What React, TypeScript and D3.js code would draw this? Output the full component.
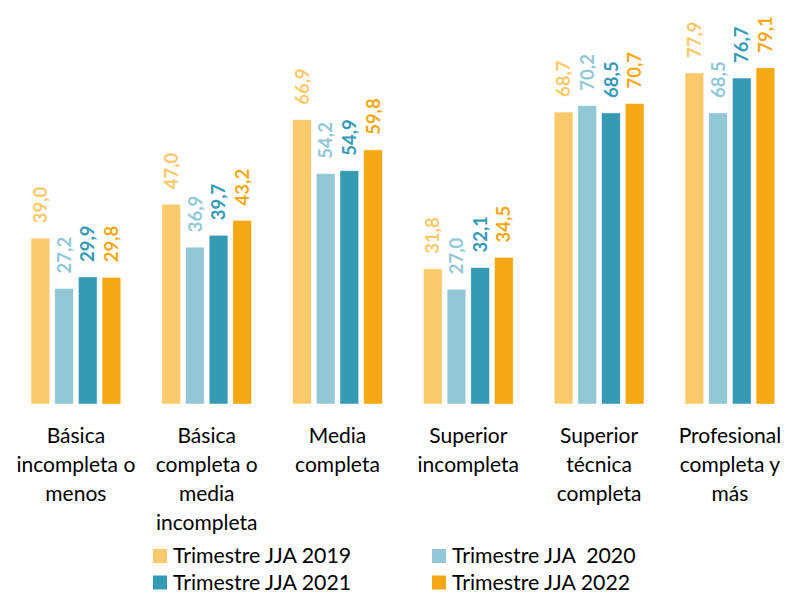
import React from "react";
import * as d3 from "d3";

const categories = [
  ["Básica", "incompleta o", "menos"],
  ["Básica", "completa o", "media", "incompleta"],
  ["Media", "completa"],
  ["Superior", "incompleta"],
  ["Superior", "técnica", "completa"],
  ["Profesional", "completa y", "más"],
];
const seriesNames = ["Trimestre JJA 2019", "Trimestre JJA  2020", "Trimestre JJA 2021", "Trimestre JJA 2022"];
const s2019 = [39.0, 47.0, 66.9, 31.8, 68.7, 77.9];
const s2020 = [27.2, 36.9, 54.2, 27.0, 70.2, 68.5];
const s2021 = [29.9, 39.7, 54.9, 32.1, 68.5, 76.7];
const s2022 = [29.8, 43.2, 59.8, 34.5, 70.7, 79.1];
const series = [s2019, s2020, s2021, s2022];
const colors = ["#F9C96B", "#92C8D5", "#359AB4", "#F5A814"];

const W = 786;
const H = 593;
const FONT = "Lato, 'Open Sans', sans-serif";

export default function App() {
  const x0 = d3
    .scaleBand<number>()
    .domain(d3.range(categories.length))
    .range([10.5, 795.3])
    .paddingInner(0.314)
    .paddingOuter(0.157);
  const x1 = d3
    .scaleBand<number>()
    .domain(d3.range(series.length))
    .range([0, x0.bandwidth()])
    .paddingInner(0.21)
    .paddingOuter(0);
  const y = d3.scaleLinear().domain([0, 90]).range([404, 21.5]);
  const fmt = (v: number) => d3.format(".1f")(v).replace(".", ",");

  return (
    <svg width={W} height={H} style={{ position: "absolute", left: 0, top: 0, background: "#fff" }}>
      {categories.map((cat, i) => (
        <g key={i} transform={`translate(${x0(i)},0)`}>
          {series.map((s, j) => {
            const v = s[i];
            const bx = x1(j)!;
            const bw = x1.bandwidth();
            return (
              <g key={j}>
                <rect
                  x={bx}
                  y={y(v)}
                  width={bw}
                  height={y(0) - y(v)}
                  fill={colors[j]}
                  stroke="#ffffff"
                  strokeOpacity={0.6}
                  strokeWidth={0.8}
                />
                <text
                  transform={`translate(${bx + bw / 2},${y(v) - 15}) rotate(-90)`}
                  dy="0.36em"
                  textAnchor="start"
                  fontFamily={FONT}
                  fontWeight={700}
                  fontSize={18.5}
                  fill={colors[j]}
                >
                  {fmt(v)}
                </text>
              </g>
            );
          })}
          {cat.map((line, k) => (
            <text
              key={k}
              x={x0.bandwidth() / 2}
              y={443 + k * 29}
              textAnchor="middle"
              fontFamily={FONT}
              fontSize={21}
              fill="#000"
            >
              {line}
            </text>
          ))}
        </g>
      ))}
      {seriesNames.map((name, j) => {
        const col = j % 2;
        const row = Math.floor(j / 2);
        const lx = col === 0 ? 153 : 432;
        const ly = 549 + row * 26.5;
        return (
          <g key={j}>
            <rect x={lx} y={ly} width={14} height={14} fill={colors[j]} />
            <text
              x={lx + 20}
              y={ly + 14}
              fontFamily={FONT}
              fontSize={21.3}
              fill="#000"
              style={{ whiteSpace: "pre" }}
            >
              {name}
            </text>
          </g>
        );
      })}
    </svg>
  );
}
